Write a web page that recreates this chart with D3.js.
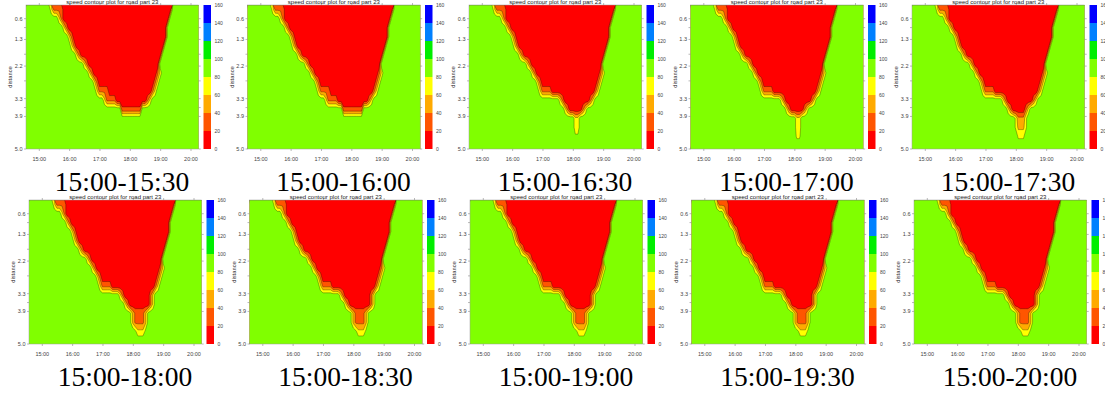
<!DOCTYPE html>
<html>
<head>
<meta charset="utf-8">
<script src="https://cdn.jsdelivr.net/npm/d3@7"></script>
<style>
  html, body { margin: 0; padding: 0; background: #fff; }
  svg { display: block; }
</style>
</head>
<body>
<svg id="chart" width="1105" height="394"></svg>
<script>
const captions = ['15:00-15:30', '15:00-16:00', '15:00-16:30', '15:00-17:00', '15:00-17:30',
                  '15:00-18:00', '15:00-18:30', '15:00-19:00', '15:00-19:30', '15:00-20:00'];
const panelTitle = 'speed contour plot for road part 23';
const hourTicks = [15, 16, 17, 18, 19, 20];
const distanceTicks = [0.6, 0.9, 1.3, 1.8, 2.2, 2.7, 3.3, 3.6, 3.9, 5.0];
const distanceLabels = [0.6, 1.3, 2.2, 3.3, 3.9, 5.0];
const speedTicks = [0, 20, 40, 60, 80, 100, 120, 140, 160];
const speedThresholds = [20, 40, 60, 80, 100, 120, 140];
const bandColors = ['#ff0000', '#ff5500', '#ffaa00', '#ffff00', '#80ff00', '#00ee00', '#0080ff', '#0000ff'];

// speed grid: 70 columns of 5 min, 16 rows of 0.306 km
const gridStartTime = 14.525, gridTimeStep = 1 / 12;
const gridStartDist = 0.137, gridDistStep = 0.306;

// each distance row as runs of [speed, number of 5-min cells]
const upperRuns = [
  [[95, 10], [65, 1], [35, 4], [5, 43], [95, 12]],
  [[95, 13], [65, 1], [35, 1], [5, 42], [95, 13]],
  [[95, 15], [65, 1], [35, 1], [5, 39], [95, 14]],
  [[95, 17], [65, 1], [35, 1], [5, 37], [95, 14]],
  [[95, 18], [65, 1], [35, 1], [5, 35], [95, 15]],
  [[95, 20], [65, 1], [35, 1], [5, 32], [95, 16]],
  [[95, 23], [65, 1], [35, 1], [5, 28], [95, 17]],
  [[95, 25], [65, 1], [35, 1], [5, 25], [35, 1], [65, 1], [95, 16]],
  [[95, 27], [65, 1], [35, 1], [5, 22], [35, 1], [65, 1], [95, 17]],
  [[95, 28], [65, 1], [35, 4], [5, 17], [35, 1], [65, 1], [95, 18]],
];
const lowerFlat = [
  [[95, 31], [65, 1], [35, 4], [5, 12], [35, 1], [65, 1], [95, 20]],
  [[95, 38], [25, 8], [95, 24]],
  [[95, 70]],
  [[95, 70]],
  [[95, 70]],
  [[95, 70]],
];
const lowerThinTail = [
  [[95, 36], [65, 1], [35, 1], [5, 10], [35, 1], [65, 1], [95, 20]],
  [[95, 38], [65, 1], [35, 1], [5, 5], [35, 1], [65, 1], [95, 23]],
  [[95, 42], [65, 2], [95, 26]],
  [[95, 42], [65, 2], [95, 26]],
  [[95, 42], [85, 2], [95, 26]],
  [[95, 70]],
];
const lowerThinTail2 = [
  [[95, 36], [65, 1], [35, 1], [5, 10], [35, 1], [65, 1], [95, 20]],
  [[95, 38], [65, 1], [35, 1], [5, 5], [35, 1], [65, 1], [95, 23]],
  [[95, 42], [65, 2], [95, 26]],
  [[95, 42], [65, 2], [95, 26]],
  [[95, 42], [75, 2], [95, 26]],
  [[95, 70]],
];
const lowerMidTail = [
  [[95, 36], [65, 1], [35, 1], [5, 10], [35, 1], [65, 1], [95, 20]],
  [[95, 38], [65, 1], [35, 1], [5, 5], [35, 1], [65, 1], [95, 23]],
  [[95, 41], [75, 1], [45, 3], [75, 1], [95, 24]],
  [[95, 41], [75, 1], [55, 3], [75, 1], [95, 24]],
  [[95, 42], [75, 3], [95, 25]],
  [[95, 70]],
];
const lowerWideTail = [
  [[95, 36], [65, 1], [35, 1], [5, 10], [35, 1], [65, 1], [95, 20]],
  [[95, 38], [65, 1], [35, 1], [5, 8], [35, 1], [65, 1], [95, 20]],
  [[95, 40], [85, 1], [55, 1], [35, 4], [55, 1], [85, 1], [95, 22]],
  [[95, 40], [85, 1], [55, 1], [35, 4], [55, 1], [85, 1], [95, 22]],
  [[95, 42], [85, 1], [65, 3], [85, 1], [95, 23]],
  [[95, 70]],
];
const panelLower = [lowerFlat, lowerFlat, lowerThinTail, lowerThinTail2, lowerMidTail,
                    lowerWideTail, lowerWideTail, lowerWideTail, lowerWideTail, lowerWideTail];

const svg = d3.select('#chart');
const colW = 221.5, rowH = 195;
const shiftX = [[0, 0, 0, 0, 0], [3, 2, 1, 1, 2]];
const plot = {left: 26, right: 198.7, top: 5, bottom: 149};
const tickFont = 'Liberation Sans, Arial, sans-serif';

captions.forEach((caption, k) => {
  const col = k % 5, row = Math.floor(k / 5);
  const ox = col * colW + shiftX[row][col], oy = row * rowH;
  const g = svg.append('g').attr('transform', `translate(${ox},${oy})`);

  const x = d3.scaleLinear().domain([15, 20]).range([39.3, 191]);
  const y = d3.scaleLinear().domain([0.6, 5.0]).range([18.7, 149]);
  const c = d3.scaleLinear().domain([0, 160]).range([plot.bottom, plot.top]);

  /* CONTOURS */
  const runs = upperRuns.concat(panelLower[k]);
  const ny = runs.length;
  const values = runs.flatMap(r => r.flatMap(([v, n]) => Array(n).fill(v)));
  const nx = values.length / ny;
  const bands = d3.contours().size([nx, ny]).thresholds(speedThresholds)(values);
  const proj = d3.geoTransform({
    point(px, py) {
      this.stream.point(x(gridStartTime + px * gridTimeStep), y(gridStartDist + py * gridDistStep));
    }
  });
  const path = d3.geoPath(proj);

  const clipId = `clip${k}`;
  g.append('clipPath').attr('id', clipId).append('rect')
    .attr('x', plot.left).attr('y', plot.top)
    .attr('width', plot.right - plot.left).attr('height', plot.bottom - plot.top);

  const area = g.append('g').attr('clip-path', `url(#${clipId})`);
  area.append('rect')
    .attr('x', plot.left).attr('y', plot.top)
    .attr('width', plot.right - plot.left).attr('height', plot.bottom - plot.top)
    .attr('fill', bandColors[0]);
  area.selectAll('path.band').data(bands).enter().append('path')
    .attr('class', 'band')
    .attr('d', path)
    .attr('fill', (d, i) => bandColors[i + 1])
    .attr('stroke', '#000').attr('stroke-width', 0.35).attr('stroke-opacity', 0.85);

  // frame + ticks
  g.append('rect')
    .attr('x', plot.left).attr('y', plot.top)
    .attr('width', plot.right - plot.left).attr('height', plot.bottom - plot.top)
    .attr('fill', 'none').attr('stroke', '#9a9a9a').attr('stroke-width', 0.5);

  const ticks = g.append('g').attr('stroke', '#8a8a8a').attr('stroke-width', 0.6);
  hourTicks.forEach(h => {
    ticks.append('line').attr('x1', x(h)).attr('x2', x(h)).attr('y1', plot.bottom).attr('y2', plot.bottom + 2);
    ticks.append('line').attr('x1', x(h)).attr('x2', x(h)).attr('y1', plot.top).attr('y2', plot.top - 2);
  });
  distanceTicks.forEach(d => {
    ticks.append('line').attr('x1', plot.left - 2).attr('x2', plot.left).attr('y1', y(d)).attr('y2', y(d));
    ticks.append('line').attr('x1', plot.right).attr('x2', plot.right + 2).attr('y1', y(d)).attr('y2', y(d));
  });

  g.selectAll('text.xlab').data(hourTicks).enter().append('text')
    .attr('class', 'xlab')
    .attr('x', d => x(d)).attr('y', 161)
    .attr('text-anchor', 'middle')
    .style('font-family', tickFont).style('font-size', '5.5px').attr('fill', '#444')
    .text(d => `${d}:00`);

  g.selectAll('text.ylab').data(distanceLabels).enter().append('text')
    .attr('class', 'ylab')
    .attr('x', 22.5).attr('y', d => y(d) + 2)
    .attr('text-anchor', 'end')
    .style('font-family', tickFont).style('font-size', '5.5px').attr('fill', '#444')
    .text(d => d.toFixed(1));

  g.append('text')
    .attr('transform', `translate(12,${(plot.top + plot.bottom) / 2}) rotate(-90)`)
    .attr('text-anchor', 'middle')
    .style('font-family', tickFont).style('font-size', '5.8px').attr('fill', '#333')
    .text('distance');

  g.append('text')
    .attr('x', (plot.left + plot.right) / 2).attr('y', 3.5)
    .attr('text-anchor', 'middle')
    .style('font-family', tickFont).style('font-size', '6px').attr('fill', '#222')
    .text(panelTitle);

  /* COLORBAR */
  const cb = g.append('g');
  cb.selectAll('rect').data(bandColors).enter().append('rect')
    .attr('x', 203.5).attr('width', 7.5)
    .attr('y', (d, i) => c(speedTicks[i + 1]))
    .attr('height', (d, i) => c(speedTicks[i]) - c(speedTicks[i + 1]))
    .attr('fill', d => d);
  cb.selectAll('text').data(speedTicks).enter().append('text')
    .attr('x', 214.5).attr('y', d => c(d) + 1.8)
    .style('font-family', tickFont).style('font-size', '5px').attr('fill', '#444')
    .text(d => d);

  /* CAPTION */
  g.append('text')
    .attr('x', 122).attr('y', 190.5)
    .attr('text-anchor', 'middle')
    .style('font-family', 'Liberation Serif, Times New Roman, serif').style('font-size', '27.5px')
    .attr('fill', '#000')
    .text(caption);
});
</script>
</body>
</html>
